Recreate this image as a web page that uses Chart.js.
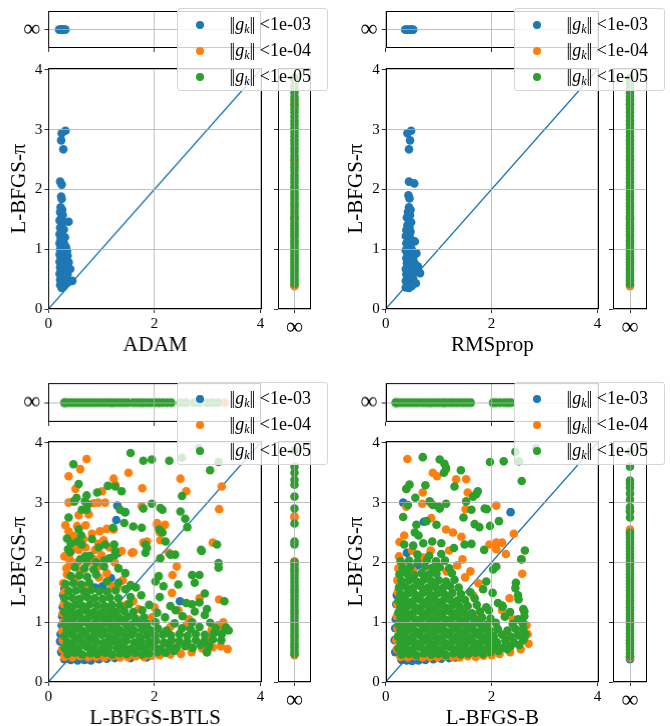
<!DOCTYPE html>
<html>
<head>
<meta charset="utf-8">
<script src="https://cdn.jsdelivr.net/npm/chart.js@4.4.1/dist/chart.umd.min.js"></script>
<style>
  body { margin: 0; background: #fff; width: 670px; height: 726px; position: relative; overflow: hidden; font-family: "Liberation Serif", "DejaVu Serif", serif; }
  canvas { position: absolute; }
  .lg { position: absolute; width: 151px; height: 83px; background: rgba(255,255,255,0.8); border: 1px solid #d6d6d6; border-radius: 3px; box-sizing: border-box; z-index: 5; }
  .lg .dot { position: absolute; width: 8px; height: 8px; border-radius: 50%; }
  .lg .tx { position: absolute; font-size: 18px; line-height: 18px; white-space: nowrap; color: #000; }
  .lg .bar { letter-spacing: -1.5px; margin-right: 1.5px; }
  .lg sub { font-size: 12px; vertical-align: -3px; line-height: 0; }
</style>
</head>
<body>
<script>
// colours of the three tolerance groups
const blue = "#1f77b4", orange = "#ff7f0e", green = "#2ca02c";
const legendLabels = ["<1e-03", "<1e-04", "<1e-05"];
const xTicks = [0, 2, 4];
const yTicks = [0, 1, 2, 3, 4];
const INF = 1; // position of the "inf" row / column in the strips

// ---- ADAM vs L-BFGS-pi ----
const adamBlue = [[0.25,2.94],[0.32,2.98],[0.24,2.82],[0.28,2.67],[0.22,2.13],[0.25,2.08],[0.24,1.88],[0.25,1.84],[0.23,1.70],[0.26,1.66],
  [0.22,1.62],[0.27,1.57],[0.24,1.52],[0.21,1.48],[0.28,1.45],[0.38,1.46],[0.25,1.41],[0.22,1.36],[0.29,1.33],[0.24,1.29],[0.21,1.25],
  [0.27,1.22],[0.31,1.20],[0.23,1.17],[0.26,1.13],[0.21,1.10],[0.30,1.08],[0.24,1.05],[0.33,1.03],[0.22,1.00],[0.28,0.98],[0.35,0.97],
  [0.25,0.94],[0.21,0.91],[0.30,0.90],[0.36,0.89],[0.23,0.86],[0.27,0.83],[0.33,0.82],[0.21,0.79],[0.38,0.78],[0.26,0.76],[0.30,0.73],
  [0.22,0.70],[0.35,0.70],[0.26,0.67],[0.41,0.67],[0.23,0.63],[0.31,0.62],[0.21,0.59],[0.28,0.57],[0.36,0.58],[0.24,0.54],[0.33,0.52],
  [0.22,0.49],[0.29,0.47],[0.45,0.47],[0.25,0.43],[0.36,0.44],[0.22,0.40],[0.29,0.38],[0.25,0.35]];
const adamTopBlue = [0.20, 0.23, 0.26, 0.29, 0.32];

// ---- RMSprop vs L-BFGS-pi ----
const rmsBlue = [[0.41,2.94],[0.48,2.98],[0.46,2.82],[0.44,2.67],[0.44,2.13],[0.54,2.10],[0.43,1.90],[0.45,1.85],[0.44,1.70],[0.47,1.66],
  [0.42,1.62],[0.46,1.57],[0.40,1.53],[0.44,1.49],[0.48,1.45],[0.41,1.40],[0.45,1.36],[0.39,1.32],[0.47,1.29],[0.42,1.25],[0.38,1.22],
  [0.46,1.19],[0.43,1.15],[0.50,1.14],[0.55,1.13],[0.39,1.10],[0.46,1.07],[0.42,1.03],[0.49,1.00],[0.38,0.98],[0.45,0.95],[0.58,0.93],
  [0.41,0.92],[0.48,0.88],[0.39,0.85],[0.52,0.84],[0.44,0.81],[0.40,0.77],[0.47,0.75],[0.55,0.76],[0.61,0.71],[0.42,0.71],[0.38,0.67],
  [0.49,0.66],[0.44,0.62],[0.65,0.60],[0.57,0.62],[0.39,0.58],[0.47,0.56],[0.42,0.52],[0.52,0.50],[0.38,0.47],[0.46,0.45],[0.57,0.43],
  [0.41,0.41],[0.49,0.38],[0.38,0.36],[0.44,0.35]];
const rmsTopBlue = [0.37, 0.41, 0.45, 0.49, 0.52];

// L-BFGS-pi values where ADAM / RMSprop never reached 1e-4 / 1e-5
const piInfOrange = [0.38, 0.40, 1.52, 2.48, 3.41, 3.44];
const piInfGreen = [0.42,0.47,0.51,0.56,0.60,0.65,0.69,0.74,0.78,0.83,0.88,0.92,0.97,1.01,1.06,1.11,1.15,1.21,1.25,1.30,1.35,1.40,
  1.44,1.50,1.55,1.61,1.66,1.72,1.77,1.83,1.88,1.94,2.00,2.05,2.12,2.18,2.24,2.31,2.37,2.43,2.50,2.56,2.63,2.69,2.76,2.82,2.89,
  2.95,3.02,3.09,3.15,3.22,3.29,3.35,3.42,3.49,3.55,3.62,3.69,3.75,3.82,3.86];

// ---- L-BFGS-BTLS vs L-BFGS-pi ----
const btlsBlue = [[0.30,0.38],[0.42,0.37],[0.55,0.36],[0.68,0.37],[0.80,0.36],[0.95,0.38],[1.10,0.39],[1.25,0.40],[1.55,0.40],[1.85,0.41],
  [0.24,0.50],[0.22,0.68],[0.23,0.80],[0.25,0.95],[0.26,1.10],[0.27,1.25],[0.28,1.45],[0.30,1.56],
  [1.30,2.95],[1.45,2.84],[1.28,2.71],[1.32,2.16],[2.48,1.35],[1.02,1.60],[1.18,1.74],[0.88,1.58]];
const btlsOrange = [[0.30,0.42],[0.45,0.41],[0.60,0.43],[0.75,0.41],[0.90,0.42],[1.05,0.41],[1.20,0.43],[1.35,0.41],[1.50,0.42],[1.65,0.43],
  [1.80,0.42],[1.95,0.44],[2.10,0.45],[2.30,0.46],[2.50,0.47],[2.70,0.50],[2.90,0.56],[3.10,0.58],[3.25,0.60],[3.38,0.55],
  [0.26,0.55],[0.27,0.70],[0.26,0.85],[0.28,1.00],[0.27,1.15],[0.29,1.30],[0.30,1.50],[0.28,1.65],[0.35,1.80],[0.40,1.95],[0.40,2.05],
  [1.30,1.60],[1.60,1.35],[2.00,1.25],[2.45,1.20],[2.65,1.05],[3.00,0.75],[3.20,0.95],[3.30,1.00],[2.85,1.40],[3.22,1.38],[2.33,1.49],
  [2.34,1.79],[2.42,1.93],[2.27,2.16],[1.10,1.82],[1.57,2.16],[1.79,2.33],[2.05,2.66],[2.20,2.63],[0.60,1.85],[0.75,2.00],[1.25,2.00],
  [0.95,1.75],[0.72,3.73],[0.60,3.56],[0.38,3.44],[1.51,3.50],[1.23,3.40],[1.26,3.30],[0.51,3.23],[1.01,3.19],[1.77,3.24],[2.49,3.40],
  [2.60,3.19],[3.27,3.27],[0.38,3.00],[0.47,3.02],[0.85,2.99],[0.94,3.00],[1.07,3.00],[1.76,2.94],[3.22,2.89],[0.57,2.79],[0.76,2.80],
  [0.54,2.61],[1.10,2.56],[1.23,2.55],[0.38,2.52],[0.47,2.44],[0.66,2.39],[0.82,2.48],[2.05,2.63],[2.15,2.60],[2.10,2.50],[3.10,2.33],
  [1.60,2.17],[1.86,2.35],[2.11,2.37],[0.44,2.21],[0.57,2.21],[0.88,2.21],[0.94,2.31],[1.04,2.37],[1.38,2.19],[3.08,0.87],[2.6,0.62],
  [0.30,2.10],[0.46,2.30],[0.55,2.00],[0.70,2.25],[0.86,2.05],[1.00,2.12],[1.15,2.25],[0.34,1.90],[0.50,1.72],[0.66,1.58],[0.92,1.92],
  [1.20,1.60],[1.40,1.70],[0.32,2.62],[0.70,2.62],[0.97,2.52],[1.48,1.30],[1.70,1.22],[1.95,1.08],[2.30,0.92],[2.60,0.95]];
const btlsGreen = [
  [0.36,0.47],[0.50,0.49],[0.64,0.46],[0.79,0.48],[0.92,0.47],[1.07,0.49],[1.20,0.46],[1.35,0.48],[1.48,0.47],[1.63,0.49],[1.77,0.46],[1.90,0.48],[2.06,0.50],[2.21,0.49],[2.37,0.52],[2.99,0.50],
  [0.30,0.57],[0.44,0.58],[0.57,0.56],[0.72,0.59],[0.86,0.57],[1.01,0.56],[1.14,0.58],[1.29,0.57],[1.42,0.59],[1.56,0.56],[1.71,0.58],[1.84,0.57],[1.99,0.59],[2.12,0.56],[2.28,0.60],[2.42,0.58],[2.58,0.60],[2.72,0.57],[2.87,0.62],[3.03,0.60],
  [0.35,0.67],[0.49,0.68],[0.63,0.66],[0.78,0.69],[0.91,0.67],[1.05,0.66],[1.20,0.68],[1.33,0.67],[1.47,0.69],[1.62,0.66],[1.75,0.68],[1.90,0.67],[2.03,0.69],[2.18,0.66],[2.32,0.70],[2.47,0.68],[2.62,0.67],[2.78,0.70],[2.94,0.68],[3.10,0.71],[3.26,0.70],
  [0.30,0.77],[0.44,0.79],[0.58,0.76],[0.71,0.78],[0.86,0.77],[1.00,0.79],[1.14,0.76],[1.28,0.78],[1.43,0.77],[1.57,0.79],[1.72,0.76],[1.86,0.78],[2.01,0.77],[2.16,0.79],[2.31,0.78],[2.47,0.80],[2.62,0.77],[2.78,0.80],[2.95,0.79],[3.12,0.81],[3.27,0.80],[3.40,0.86],
  [0.35,0.87],[0.49,0.88],[0.63,0.86],[0.77,0.89],[0.91,0.87],[1.05,0.86],[1.19,0.88],[1.34,0.87],[1.48,0.89],[1.62,0.86],[1.77,0.88],[1.92,0.87],[2.07,0.89],[2.23,0.86],[2.52,0.90],[2.68,0.88],[2.85,0.92],[3.16,0.90],[3.35,0.91],
  [0.30,0.97],[0.44,0.98],[0.58,0.96],[0.72,0.99],[0.86,0.97],[1.00,0.96],[1.14,0.98],[1.28,0.97],[1.43,0.99],[1.57,0.96],[1.72,0.98],[1.86,0.97],[2.02,1.00],[2.38,0.98],[2.71,1.00],[3.05,0.99],
  [0.35,1.07],[0.49,1.08],[0.63,1.06],[0.77,1.09],[0.91,1.07],[1.05,1.06],[1.19,1.08],[1.34,1.07],[1.49,1.09],[1.64,1.06],[1.80,1.08],[2.20,1.08],[2.53,1.10],[2.95,1.12],
  [0.30,1.17],[0.44,1.18],[0.58,1.16],[0.72,1.19],[0.86,1.17],[1.00,1.16],[1.14,1.18],[1.28,1.17],[1.43,1.19],[1.60,1.17],[1.77,1.20],[2.05,1.16],[2.40,1.20],[2.76,1.18],
  [0.36,1.28],[0.50,1.29],[0.64,1.27],[0.78,1.30],[0.92,1.28],[1.06,1.27],[1.20,1.29],[1.35,1.28],[1.52,1.30],[1.90,1.29],[2.30,1.27],[2.60,1.32],
  [0.30,1.40],[0.45,1.41],[0.59,1.39],[0.73,1.42],[0.87,1.40],[1.02,1.39],[1.16,1.41],[1.32,1.40],[1.55,1.42],[1.75,1.45],[2.10,1.42],
  [0.38,1.52],[0.52,1.53],[0.67,1.51],[0.81,1.54],[0.96,1.52],[1.11,1.51],[1.27,1.53],[1.45,1.55],[1.65,1.58],
  [0.32,1.64],[0.47,1.65],[0.62,1.63],[0.77,1.66],[1.10,1.68],[1.32,1.66],[1.55,1.62],
  [0.42,1.77],[0.58,1.78],[0.73,1.76],[0.90,1.80],[1.45,1.82],
  [0.50,1.92],[0.68,1.90],[0.85,1.88],[1.05,1.93],[1.32,1.90],
  [0.60,2.05],[0.72,2.02],[0.90,2.00],[1.05,2.03],[1.15,2.07],[1.25,2.12],[0.69,2.10],[0.78,2.11],
  [2.71,1.79],[2.85,1.79],[2.76,1.66],[2.45,1.63],[2.08,1.77],[2.02,1.68],[2.17,1.60],[2.95,1.48],[2.71,1.30],[2.85,1.33],[2.99,1.22],
  [3.32,1.35],[3.21,1.99],[3.21,1.91],[1.83,2.16],[2.11,2.07],[2.39,2.13],[2.89,2.19],[3.33,0.88],[2.99,0.50],
  [1.55,3.83],[2.84,3.91],[1.79,3.70],[1.95,3.72],[2.28,3.70],[2.52,3.75],[3.21,3.68],[3.05,3.54],[0.47,3.64],[0.57,3.31],[1.12,3.28],
  [1.26,3.27],[1.38,3.19],[0.92,3.17],[0.53,3.08],[0.49,3.02],[0.72,3.12],[0.69,3.02],[0.74,2.97],[0.63,2.88],[0.72,2.88],[0.38,2.75],
  [1.35,2.88],[1.44,2.84],[1.79,2.90],[1.95,2.98],[2.11,2.91],[2.15,2.88],[2.52,3.11],[2.49,2.85],[2.58,2.73],[1.43,2.66],[1.60,2.60],
  [1.76,2.58],[1.22,2.58],[2.09,2.55],[2.15,2.50],[2.62,2.59],[2.21,2.35],[1.83,2.30],[1.86,2.24],[2.88,2.21],[3.18,2.30],[0.57,2.55],
  [0.62,2.45],[0.55,2.35],[0.63,2.30],[0.35,2.40],[0.42,2.32],[0.37,2.22],[0.41,2.17],[0.82,2.39],[0.95,2.25],[1.07,2.30],[1.24,2.30],
  [1.26,2.19],[2.30,2.13]];
const btlsTopBlue = [0.30];
const btlsTopOrange = [0.31, 1.20, 1.76, 2.10, 3.33];
const btlsTopGreen = [0.31,0.36,0.41,0.46,0.51,0.57,0.62,0.68,0.73,0.79,0.85,0.90,0.96,1.02,1.08,1.14,1.20,1.26,1.32,1.38,1.44,1.50,
  1.60,1.66,1.72,1.80,1.87,1.93,2.01,2.08,2.16,2.24,2.32,2.50,2.60,2.75,2.85,3.00,3.10,3.20];
const btlsInfOrange = [0.45, 2.02, 2.75, 2.77];
const btlsInfGreen = [0.47,0.52,0.58,0.63,0.69,0.75,0.80,0.86,0.92,0.97,1.03,1.09,1.15,1.20,1.26,1.32,1.38,1.44,1.50,1.55,1.61,1.67,
  1.73,1.79,1.85,1.90,1.96,2.00,2.30,2.35,2.65,2.90,3.10,3.30,3.38,3.50,3.60,3.87];

// ---- L-BFGS-B vs L-BFGS-pi ----
const bBlue = [[0.30,0.37],[0.40,0.36],[0.50,0.35],[0.62,0.36],[0.75,0.37],[0.90,0.38],[1.05,0.39],[1.20,0.40],[1.32,0.41],
  [0.18,0.50],[0.17,0.70],[0.18,0.90],[0.19,1.05],[0.20,1.30],[0.21,1.45],
  [0.33,3.00],[0.72,2.68],[2.36,2.84],[2.63,0.76],[0.40,2.16],[0.60,1.95]];
const bOrange = [[0.28,0.42],[0.42,0.41],[0.56,0.43],[0.70,0.41],[0.84,0.42],[0.98,0.41],[1.12,0.43],[1.26,0.42],[1.40,0.41],[1.55,0.43],
  [1.70,0.42],[1.85,0.44],[2.00,0.45],[2.15,0.47],[2.35,0.50],[2.55,0.55],[2.70,0.64],[2.68,0.80],[2.66,0.95],
  [0.21,0.55],[0.20,0.70],[0.22,0.90],[0.21,1.10],[0.22,1.30],[0.23,1.50],[0.22,1.70],[0.24,1.90],[0.25,2.10],[0.26,2.34],
  [0.41,3.73],[0.89,3.50],[0.97,3.44],[1.14,3.55],[1.33,3.39],[1.52,3.39],[0.39,3.23],[0.70,3.17],[1.55,3.17],[0.39,2.93],[0.69,2.98],
  [0.86,2.98],[1.51,2.89],[2.09,2.95],[0.86,2.74],[1.14,2.55],[1.27,2.50],[1.43,2.43],[1.96,2.30],[2.09,2.33],[2.20,2.33],[2.27,2.14],
  [2.58,1.81],[2.34,1.40],[2.57,2.05],[2.42,2.48],[2.09,2.22],[1.45,2.05],[1.60,1.85],[1.75,1.65],[2.20,1.20],[2.40,1.05],[2.10,0.90],
  [1.50,1.75],[0.50,2.20],[0.85,2.20],[1.20,2.20],[0.60,1.40],[1.00,1.20],[1.30,0.90],[1.70,1.10],[0.45,0.90],[1.90,0.70],[2.30,0.75],
  [2.50,0.85],[0.90,1.60],[1.15,1.85],[0.35,2.45],[0.30,1.98],[0.52,1.86],[0.70,2.08],[1.35,1.95],[1.65,1.45]];
const bGreen = [
  [0.30,0.46],[0.44,0.47],[0.58,0.45],[0.72,0.48],[0.86,0.46],[1.00,0.47],[1.14,0.45],[1.28,0.48],[1.42,0.46],[1.56,0.47],[1.70,0.49],[1.84,0.47],[1.98,0.50],[2.13,0.52],[2.30,0.55],
  [0.24,0.56],[0.37,0.57],[0.51,0.55],[0.65,0.58],[0.79,0.56],[0.93,0.57],[1.07,0.55],[1.21,0.58],[1.35,0.56],[1.49,0.57],[1.63,0.55],[1.77,0.58],[1.91,0.56],[2.05,0.59],[2.20,0.57],[2.36,0.60],[2.52,0.62],
  [0.28,0.66],[0.42,0.67],[0.56,0.65],[0.70,0.68],[0.84,0.66],[0.98,0.67],[1.12,0.65],[1.26,0.68],[1.40,0.66],[1.54,0.67],[1.68,0.65],[1.82,0.68],[1.96,0.66],[2.10,0.67],[2.26,0.69],[2.42,0.66],[2.60,0.70],
  [0.23,0.76],[0.36,0.77],[0.50,0.75],[0.64,0.78],[0.78,0.76],[0.92,0.77],[1.06,0.75],[1.20,0.78],[1.34,0.76],[1.48,0.77],[1.62,0.75],[1.76,0.78],[1.90,0.76],[2.04,0.77],[2.20,0.79],[2.36,0.76],[2.50,0.78],[2.64,0.80],
  [0.28,0.86],[0.42,0.87],[0.56,0.85],[0.70,0.88],[0.84,0.86],[0.98,0.87],[1.12,0.85],[1.26,0.88],[1.40,0.86],[1.54,0.87],[1.68,0.85],[1.82,0.88],[1.96,0.86],[2.12,0.88],[2.30,0.86],[2.45,0.89],[2.60,0.90],
  [0.24,0.96],[0.37,0.97],[0.51,0.95],[0.65,0.98],[0.79,0.96],[0.93,0.97],[1.07,0.95],[1.21,0.98],[1.35,0.96],[1.49,0.97],[1.63,0.95],[1.77,0.98],[1.91,0.96],[2.08,0.99],[2.40,0.97],[2.58,1.00],
  [0.28,1.06],[0.42,1.07],[0.56,1.05],[0.70,1.08],[0.84,1.06],[0.98,1.07],[1.12,1.05],[1.26,1.08],[1.40,1.06],[1.54,1.07],[1.68,1.05],[1.82,1.08],[1.98,1.06],[2.25,1.09],[2.50,1.05],
  [0.24,1.16],[0.37,1.17],[0.51,1.15],[0.65,1.18],[0.79,1.16],[0.93,1.17],[1.07,1.15],[1.21,1.18],[1.35,1.16],[1.49,1.17],[1.63,1.15],[1.78,1.18],[1.95,1.20],[2.35,1.17],[2.60,1.22],
  [0.28,1.26],[0.42,1.27],[0.56,1.25],[0.70,1.28],[0.84,1.26],[0.98,1.27],[1.12,1.25],[1.26,1.28],[1.40,1.26],[1.55,1.27],[1.72,1.29],[1.90,1.25],[2.20,1.28],
  [0.24,1.36],[0.37,1.37],[0.51,1.35],[0.65,1.38],[0.79,1.36],[0.93,1.37],[1.07,1.35],[1.21,1.38],[1.35,1.36],[1.50,1.37],[1.68,1.40],
  [0.28,1.47],[0.42,1.48],[0.56,1.46],[0.70,1.49],[0.84,1.47],[0.98,1.48],[1.12,1.46],[1.26,1.49],[1.42,1.47],[1.60,1.50],
  [0.25,1.58],[0.38,1.59],[0.52,1.57],[0.66,1.60],[0.80,1.58],[0.94,1.59],[1.08,1.57],[1.22,1.60],[1.38,1.58],
  [0.30,1.69],[0.44,1.70],[0.58,1.68],[0.72,1.71],[0.86,1.69],[1.00,1.70],[1.14,1.68],[1.30,1.71],
  [0.26,1.80],[0.40,1.81],[0.54,1.79],[0.68,1.82],[0.82,1.80],[0.96,1.81],[1.25,1.82],
  [0.32,1.91],[0.46,1.92],[0.74,1.93],[0.88,1.91],[1.02,1.92],[1.20,1.90],
  [0.28,2.02],[0.44,2.03],[0.60,2.01],[0.78,2.04],[0.95,2.02],[1.12,2.03],
  [0.60,2.13],[0.82,2.11],[1.05,2.14],
  [0.70,3.76],[1.02,3.72],[1.11,3.65],[1.14,3.58],[1.10,3.50],[1.42,3.54],[1.97,3.68],[2.23,3.69],[2.45,3.85],[2.52,3.69],[2.84,3.91],
  [2.57,3.36],[0.45,3.30],[0.39,3.23],[0.75,3.29],[1.30,3.27],[1.74,3.19],[1.71,3.14],[1.65,3.10],[0.56,3.08],[0.42,2.96],[0.83,3.02],
  [0.89,2.96],[0.99,2.94],[1.02,2.90],[1.14,2.98],[1.52,3.02],[1.62,2.88],[1.87,2.90],[1.91,2.89],[1.47,2.75],[2.14,2.69],[1.97,2.61],
  [1.68,2.64],[1.77,2.59],[0.33,2.76],[0.58,2.63],[0.77,2.69],[0.96,2.63],[0.55,2.50],[0.62,2.45],[0.35,2.30],[0.52,2.28],[0.71,2.32],
  [0.88,2.35],[1.05,2.32],[1.29,2.24],[1.49,2.30],[1.62,2.31],[1.86,2.21],[2.63,2.20],[2.56,2.05],[2.46,1.66],[2.45,1.57],[2.51,1.38],
  [2.50,1.45],[2.62,1.18],[2.62,1.10],[2.59,0.99],[2.09,1.93],[2.03,1.88],[1.84,1.55],[1.90,1.68],[2.02,1.49],[2.12,1.32],[2.21,1.26]];
const bTopBlue = [0.19];
const bTopOrange = [0.20, 0.85, 1.10, 2.06, 2.33];
const bTopGreen = [0.19,0.23,0.28,0.33,0.38,0.43,0.48,0.53,0.58,0.63,0.69,0.74,0.79,0.84,0.90,0.95,1.00,1.06,1.11,1.16,1.22,1.27,
  1.33,1.38,1.44,1.49,1.55,1.61,2.03,2.09,2.16,2.24,2.30,2.37];
const bInfBlue = [0.38];
const bInfOrange = [0.41, 2.52, 2.55, 2.86];
const bInfGreen = [0.43,0.48,0.54,0.59,0.65,0.70,0.76,0.81,0.87,0.92,0.98,1.03,1.09,1.14,1.20,1.25,1.31,1.36,1.42,1.47,1.53,1.58,
  1.64,1.69,1.75,1.80,1.86,1.91,1.97,2.02,2.08,2.13,2.19,2.24,2.30,2.35,2.41,2.46,2.50,2.75,2.85,2.92,3.05,3.15,3.25,3.32,3.37,3.60,3.85];

const panels = [
  { col: 0, row: 0, xlabel: "ADAM",
    main: [adamBlue, [], []], top: [adamTopBlue, [], []], right: [[], piInfOrange, piInfGreen] },
  { col: 1, row: 0, xlabel: "RMSprop",
    main: [rmsBlue, [], []], top: [rmsTopBlue, [], []], right: [[], piInfOrange, piInfGreen] },
  { col: 0, row: 1, xlabel: "L-BFGS-BTLS",
    main: [btlsBlue, btlsOrange, btlsGreen], top: [btlsTopBlue, btlsTopOrange, btlsTopGreen], right: [[], btlsInfOrange, btlsInfGreen] },
  { col: 1, row: 1, xlabel: "L-BFGS-B",
    main: [bBlue, bOrange, bGreen], top: [bTopBlue, bTopOrange, bTopGreen], right: [bInfBlue, bInfOrange, bInfGreen] }
];

// layout of the axes boxes (pixels)
const cols = [{ pl: 48.3, pr: 261.6, sl: 278, sr: 311, legend: 176.5 }, { pl: 385.7, pr: 599, sl: 613.3, sr: 647.3, legend: 513.5 }];
const rows = [{ tt: 11, tb: 48, mt: 67.5, mb: 309.3, legend: 7.5 }, { tt: 383, tb: 421.5, mt: 440.5, mb: 682.3, legend: 381.5 }];

const serif = "'Liberation Serif', 'DejaVu Serif', serif";
const gridOpts = { color: "#b0b0b0", lineWidth: 0.8, tickColor: "#000", tickLength: 4, tickWidth: 0.8, z: 1 };
const RADIUS = 4.3;

const frame = {
  id: "frame",
  afterDraw(chart) {
    const a = chart.chartArea, ctx = chart.ctx;
    ctx.save();
    ctx.strokeStyle = "#000";
    ctx.lineWidth = 1;
    ctx.strokeRect(Math.round(a.left) + 0.5, Math.round(a.top) + 0.5, Math.round(a.right - a.left) - 1, Math.round(a.bottom - a.top) - 1);
    ctx.restore();
  }
};

function scatterSets(groups, toPoint) {
  const colors = [blue, orange, green];
  // green drawn on top, then orange, then blue
  return [2, 1, 0].map(i => ({
    data: groups[i].map(toPoint),
    backgroundColor: colors[i],
    borderWidth: 0,
    pointRadius: RADIUS
  }));
}

function linScale(min, max, ticks, labelFn, extra) {
  extra = extra || {};
  const tickOpts = Object.assign({ color: "#000", font: { family: serif, size: 15 }, padding: 2, callback: labelFn }, extra.ticks || {});
  return Object.assign({
    type: "linear", min: min, max: max,
    afterBuildTicks: s => { s.ticks = ticks.map(v => ({ value: v })); },
    grid: gridOpts,
    border: { display: false }
  }, extra, { ticks: tickOpts });
}

function makeChart(x, y, w, h, m, datasets, xScale, yScale) {
  const c = document.createElement("canvas");
  const cw = w + m.l + m.r, ch = h + m.t + m.b;
  c.width = cw; c.height = ch;
  c.style.left = (x - m.l) + "px"; c.style.top = (y - m.t) + "px";
  c.style.width = cw + "px"; c.style.height = ch + "px";
  document.body.appendChild(c);
  xScale.afterFit = s => { s.height = m.b; s.paddingLeft = 0; s.paddingRight = 0; };
  yScale.afterFit = s => { s.width = m.l; s.paddingTop = 0; s.paddingBottom = 0; };
  new Chart(c, {
    type: "scatter",
    data: { datasets: datasets },
    options: {
      responsive: false, animation: false, events: [],
      layout: { padding: { top: m.t, right: m.r, left: 0, bottom: 0 } },
      plugins: { legend: { display: false }, tooltip: { enabled: false } },
      scales: { x: xScale, y: yScale }
    },
    plugins: [frame]
  });
}

panels.forEach(p => {
  const c = cols[p.col], r = rows[p.row];
  const mw = c.pr - c.pl, mh = r.mb - r.mt;
  const leftM = c.pl - (p.col ? 337 : 0);

  // main scatter
  const mainSets = scatterSets(p.main, d => ({ x: d[0], y: d[1] }));
  mainSets.push({ type: "line", data: [{ x: 0, y: 0 }, { x: 4, y: 4 }], borderColor: blue, borderWidth: 1.3, pointRadius: 0, showLine: true });
  makeChart(c.pl, r.mt, mw, mh, { l: leftM, t: 10, r: 10, b: 52 }, mainSets,
    linScale(0, 4.03, xTicks, v => String(v), { title: { display: true, text: p.xlabel, color: "#000", font: { family: serif, size: 21 }, padding: { top: 0, bottom: 3 } } }),
    linScale(0, 4.03, yTicks, v => String(v), { title: { display: true, text: "L-BFGS-\u03c0", color: "#000", font: { family: serif, size: 21 }, padding: { top: 7, bottom: 0 } } }));

  // top strip: the method on x converged, L-BFGS-pi did not
  makeChart(c.pl, r.tt, mw, r.tb - r.tt, { l: leftM, t: 4, r: 4, b: 5 },
    scatterSets(p.top, v => ({ x: v, y: INF })),
    linScale(0, 4.03, xTicks, () => "", { ticks: { display: false } }),
    linScale(0, 2, [INF], () => "\u221e", { ticks: { font: { family: serif, size: 24 }, padding: 4 } }));

  // right strip: the method on x did not converge
  makeChart(c.sl, r.mt, c.sr - c.sl, mh, { l: 5, t: 10, r: 6, b: 26 },
    scatterSets(p.right, v => ({ x: INF, y: v })),
    linScale(0, 2, [INF], () => "\u221e", { ticks: { font: { family: serif, size: 24 }, padding: 0 } }),
    linScale(0, 4.03, yTicks, () => "", { ticks: { display: false } }));

  // legend box
  const lg = document.createElement("div");
  lg.className = "lg";
  lg.style.left = c.legend + "px";
  lg.style.top = r.legend + "px";
  legendLabels.forEach((t, i) => {
    const dot = document.createElement("span");
    dot.className = "dot";
    dot.style.background = [blue, orange, green][i];
    dot.style.left = "18.5px";
    dot.style.top = (12 + i * 26) + "px";
    lg.appendChild(dot);
    const tx = document.createElement("span");
    tx.className = "tx";
    tx.style.left = "52px";
    tx.style.top = (6.5 + i * 26) + "px";
    tx.innerHTML = '<span class="bar">||</span><i>g</i><sub><i>k</i></sub><span class="bar">||</span> ' + t.replace("<", "&lt;");
    lg.appendChild(tx);
  });
  document.body.appendChild(lg);
});
</script>
</body>
</html>
